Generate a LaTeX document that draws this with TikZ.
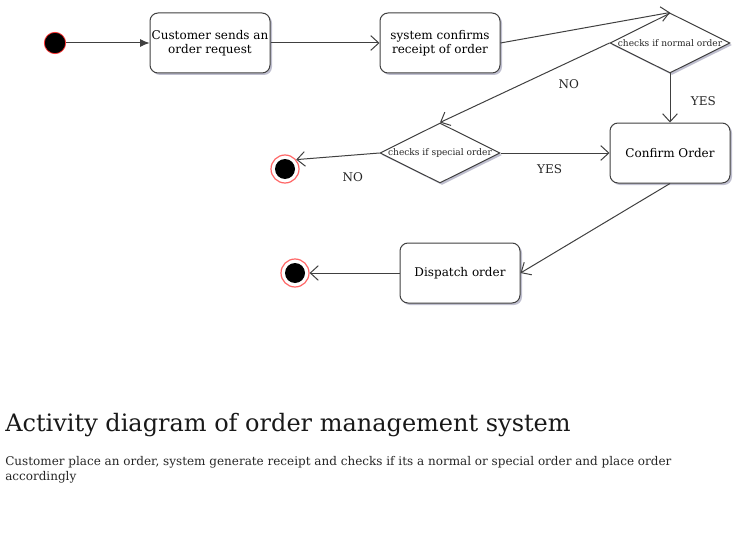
\documentclass[tikz,border=0pt]{standalone}
\usepackage{fontspec}
\setmainfont{DejaVu Serif}
\usetikzlibrary{shapes.geometric,arrows.meta,shadows}

\begin{document}
\begin{tikzpicture}[x=0.75pt,y=-0.75pt,
  shade/.style={drop shadow={shadow xshift=1.5pt, shadow yshift=-1.5pt, opacity=0.25, fill=blue!25!black}},
  act/.style={draw=black!75, line width=0.75pt, fill=white, rounded corners=6pt, minimum width=90pt, minimum height=45pt, align=center, inner sep=0pt, font=\fontsize{9}{10.5}\selectfont, shade},
  dec/.style={diamond, draw=black!75, line width=0.75pt, fill=white, minimum width=90pt, minimum height=45pt, aspect=2, inner sep=0pt, shade},
  dectext/.style={font=\fontsize{6.8}{8}\selectfont, text=black!85},
  start/.style={circle, fill=black, draw=red!80, line width=0.6pt, minimum size=16pt, inner sep=0pt},
  stop/.style={circle, fill=white, draw=red!60, line width=0.9pt, minimum size=21pt, inner sep=0pt, path picture={\fill[black] (path picture bounding box.center) circle (7.5pt);}},
  flow/.style={draw=black!75, line width=0.75pt, -{Straight Barb[length=6pt, width=11pt]}},
  lbl/.style={font=\fontsize{9}{10.5}\selectfont, text=black!85}]
\useasboundingbox (0,0) rectangle (742,535);
\node[start] (s0) at (55,43){};
\node[act] (a1) at (210,43){Customer sends an\\order request};
\node[act] (a2) at (440,43){system confirms\\receipt of order};
\node[dec, label={[dectext]center:checks if normal order}] (d1) at (670,43){};
\node[act] (a3) at (670,153){Confirm Order};
\node[dec, label={[dectext]center:checks if special order}] (d2) at (440,153){};
\node[stop] (e1) at (285,169){};
\node[act] (a4) at (460,273){Dispatch order};
\node[stop] (e2) at (295,273){};
\draw[draw=black!75, line width=0.75pt, -{Latex[length=7pt, width=6pt]}] (s0) -- (a1);
\draw[flow] (a1) -- (a2);
\draw[flow] (a2.east) -- (d1.north);
\draw[flow] (d1.south) -- node[lbl, right=12pt, yshift=-2pt]{YES} (a3.north);
\draw[flow] (d1.west) -- node[lbl, pos=0.24, yshift=-16.5pt]{NO} (d2.north);
\draw[flow] (d2.east) -- node[lbl, pos=0.45, yshift=-12pt]{YES} (a3.west);
\draw[flow] (d2.west) -- node[lbl, pos=0.32, yshift=-16.5pt]{NO} (e1.40);
\draw[flow] (a3.south) -- (a4.east);
\draw[flow] (a4.west) -- (e2.east);
\node[anchor=base west, inner sep=0pt, font=\fontsize{18}{21}\selectfont, text=black!90] (title) at (5,431){Activity diagram of order management system};
\node[anchor=north west, inner sep=0pt, align=left, font=\fontsize{9}{11.25}\selectfont, text=black!85] (desc) at (5,456){Customer place an order, system generate receipt and checks if its a normal or special order and place order\\accordingly};
\end{tikzpicture}
\end{document}
